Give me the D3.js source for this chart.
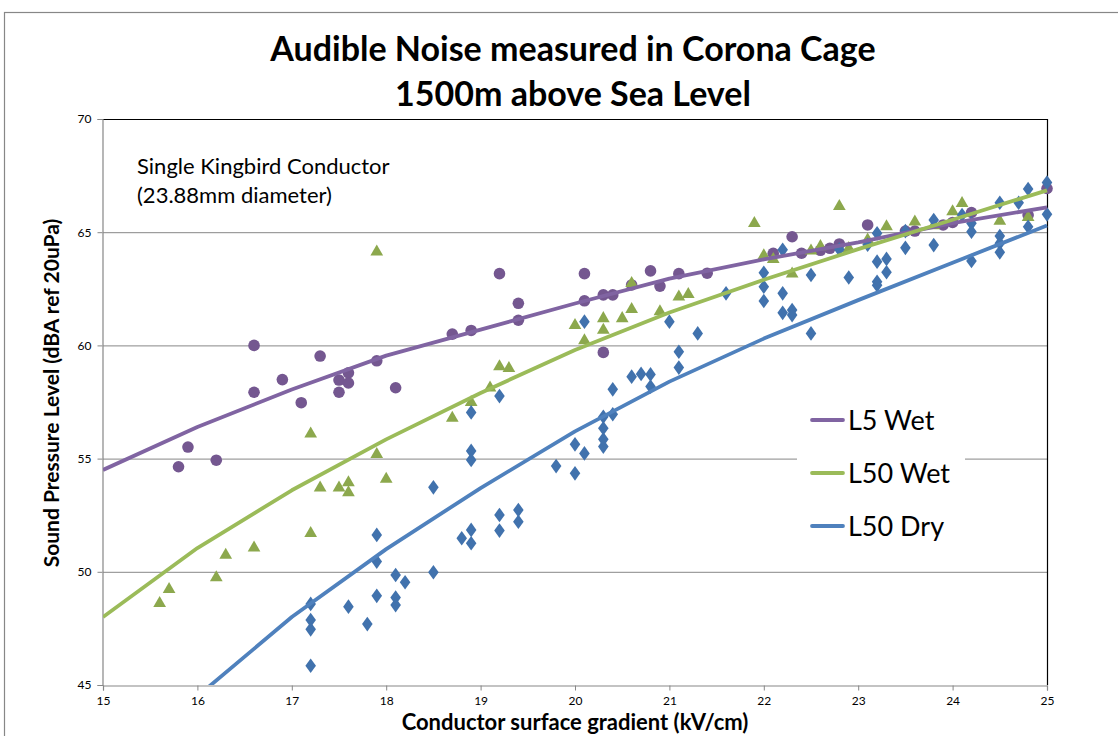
<!DOCTYPE html>
<html>
<head>
<meta charset="utf-8">
<script src="https://cdn.jsdelivr.net/npm/d3@7"></script>
<style>
  html, body { margin: 0; padding: 0; background: #fff; }
  svg { display: block; }
  text { font-family: Lato, "Open Sans", sans-serif; fill: #000; }
</style>
</head>
<body>
<svg id="chart" width="1118" height="736"></svg>
<script>
// Measured points: [gradient kV/cm, SPL dBA]
const l5WetPoints = [
  [15.8,54.64],[15.9,55.51],[16.2,54.93],[16.6,60.0],[16.6,57.93],[16.9,58.49],[17.1,57.47],
  [17.3,59.53],[17.5,58.47],[17.5,57.93],[17.6,58.79],[17.6,58.34],[17.9,59.32],[18.1,58.13],
  [18.7,60.5],[18.9,60.66],[19.2,63.17],[19.4,61.86],[19.4,61.11],[20.1,63.17],[20.1,61.97],
  [20.3,62.23],[20.4,62.23],[20.3,59.69],[20.6,62.67],[20.8,63.29],[20.9,62.62],[21.1,63.17],
  [21.4,63.19],[22.1,64.07],[22.3,64.8],[22.4,64.07],[22.6,64.2],[22.7,64.29],[22.8,64.48],
  [23.1,65.32],[23.5,65.05],[23.6,65.05],[23.9,65.32],[24.0,65.43],[24.2,65.87],[24.8,65.76],
  [25.0,66.93]
];
const l50WetPoints = [
  [15.6,48.61],[15.7,49.23],[16.2,49.74],[16.3,50.74],[16.6,51.06],[17.2,56.09],[17.2,51.70],
  [17.3,53.71],[17.5,53.71],[17.6,53.94],[17.6,53.50],[17.9,64.13],[17.9,55.19],[18.0,54.10],
  [18.7,56.79],[18.9,57.49],[19.1,58.13],[19.2,59.06],[19.3,58.99],[20.0,60.89],[20.1,60.21],
  [20.3,61.19],[20.3,60.68],[20.5,61.19],[20.6,61.59],[20.6,62.74],[20.9,61.49],[21.1,62.15],
  [21.2,62.26],[21.9,65.39],[22.0,63.97],[22.1,63.8],[22.3,63.16],[22.5,64.18],[22.6,64.37],
  [22.8,66.14],[22.9,64.29],[23.1,64.66],[23.3,65.25],[23.6,65.46],[23.8,65.29],[24.0,65.91],
  [24.1,66.27],[24.5,65.49],[24.8,65.66]
];
const l50DryPoints = [
  [17.2,45.85],[17.2,47.46],[17.2,47.87],[17.2,48.58],[17.6,48.46],[17.8,47.69],[17.9,48.94],
  [17.9,50.45],[17.9,51.63],[18.1,49.86],[18.1,48.86],[18.1,48.53],[18.2,49.54],[18.5,49.98],
  [18.5,53.73],[18.8,51.48],[18.9,51.26],[18.9,51.85],[18.9,54.94],[18.9,55.34],[18.9,57.04],
  [19.2,51.82],[19.2,52.51],[19.2,57.76],[19.4,52.21],[19.4,52.73],[19.8,54.67],[20.0,54.35],
  [20.0,55.63],[20.1,55.23],[20.1,61.05],[20.3,55.53],[20.3,55.85],[20.3,56.34],[20.3,56.85],
  [20.4,56.96],[20.4,58.06],[20.6,58.62],[20.7,58.74],[20.8,58.72],[20.8,58.18],[21.0,61.05],
  [21.1,59.72],[21.1,59.02],[21.3,60.53],[21.6,62.30],[22.0,63.21],[22.0,62.59],[22.0,61.96],
  [22.2,64.22],[22.2,62.30],[22.2,61.44],[22.3,61.56],[22.3,61.34],[22.5,63.11],[22.5,60.53],
  [22.8,64.24],[22.9,63.0],[23.1,64.45],[23.2,64.95],[23.2,63.70],[23.2,62.81],[23.2,62.66],
  [23.3,63.82],[23.3,63.23],[23.5,65.05],[23.5,64.31],[23.8,65.54],[23.8,64.43],[24.1,65.76],
  [24.2,65.39],[24.2,65.02],[24.2,63.73],[24.5,66.30],[24.5,64.83],[24.5,64.51],[24.5,64.11],
  [24.7,66.30],[24.8,66.91],[24.8,65.24],[25.0,67.19],[25.0,65.79]
];

// Fitted curves, evaluated at whole kV/cm steps
const fitX    = [15, 16, 17, 18, 19, 20, 21, 22, 23, 24, 25];
const l5Fit   = [54.5, 56.4, 58.05, 59.55, 60.7, 61.85, 62.95, 63.8, 64.55, 65.4, 66.1];
const l50WetFit = [48.0, 51.05, 53.6, 55.85, 57.9, 59.8, 61.45, 62.9, 64.25, 65.55, 66.85];
const dryFitX = [16, 17, 18, 19, 20, 21, 22, 23, 24, 25];
const l50DryFit = [44.5, 48.0, 51.0, 53.7, 56.2, 58.4, 60.3, 62.0, 63.65, 65.3];

const xTicks = [15, 16, 17, 18, 19, 20, 21, 22, 23, 24, 25];
const yTicks = [45, 50, 55, 60, 65, 70];
const legendLabels = ["L5 Wet", "L50 Wet", "L50 Dry"];

const titleLines = ["Audible Noise measured in Corona Cage", "1500m above Sea Level"];
const noteLines = ["Single Kingbird Conductor", "(23.88mm diameter)"];

const colors = {
  l5Line: "#8064A2", l5Mark: "#745790",
  wetLine: "#9BBB59", wetMark: "#8CA84D",
  dryLine: "#4F81BD", dryMark: "#4172AD"
};

const svg = d3.select("#chart");
const plot = { left: 103, right: 1047, top: 119, bottom: 685 };

const x = d3.scaleLinear().domain([15, 25]).range([plot.left, plot.right]);
const y = d3.scaleLinear().domain([45, 70]).range([plot.bottom, plot.top]);

// Outer chart frame
svg.append("rect")
  .attr("x", 4.5).attr("y", 12.5).attr("width", 1140).attr("height", 760)
  .attr("fill", "none").attr("stroke", "#878787").attr("stroke-width", 1.2);

// Title
svg.append("g").selectAll("text").data(titleLines).join("text")
  .attr("x", 573).attr("y", (d, i) => 61 + i * 45)
  .attr("text-anchor", "middle")
  .style("font-weight", "bold").style("font-size", "34px")
  .text(d => d);

// Gridlines
svg.append("g").selectAll("line").data(yTicks.filter(v => v > 45 && v < 70)).join("line")
  .attr("x1", plot.left).attr("x2", plot.right)
  .attr("y1", d => y(d) + 0.5).attr("y2", d => y(d) + 0.5)
  .attr("stroke", "#878787").attr("stroke-width", 1);

// Plot frame (top / right)
svg.append("path")
  .attr("d", `M${plot.left},${plot.top + 0.5}H${plot.right + 0.5}V${plot.bottom}`)
  .attr("fill", "none").attr("stroke", "#000").attr("stroke-width", 1.2);

// Axes
const xAxis = d3.axisBottom(x).tickValues(xTicks).tickSize(5).tickPadding(6).tickFormat(d3.format("d"));
const yAxis = d3.axisLeft(y).tickValues(yTicks).tickSize(5).tickPadding(6).tickFormat(d3.format("d"));

const gx = svg.append("g").attr("transform", `translate(0,${plot.bottom + 0.5})`).call(xAxis);
const gy = svg.append("g").attr("transform", `translate(${plot.left - 0.5},0)`).call(yAxis);
[gx, gy].forEach(g => {
  g.select(".domain").attr("stroke", "#878787").attr("stroke-width", 1.2);
  g.selectAll(".tick line").attr("stroke", "#878787");
  g.selectAll(".tick text").style("font-size", "12px").attr("fill", "#000")
    .style("font-family", "Lato, sans-serif");
});

// Axis titles
svg.append("text")
  .attr("transform", `translate(59,393) rotate(-90)`)
  .attr("text-anchor", "middle")
  .style("font-weight", "bold").style("font-size", "21px")
  .text("Sound Pressure Level (dBA ref 20uPa)");

svg.append("text")
  .attr("x", 575).attr("y", 730)
  .attr("text-anchor", "middle")
  .style("font-weight", "bold").style("font-size", "22px")
  .text("Conductor surface gradient (kV/cm)");

// Note text
svg.append("g").selectAll("text").data(noteLines).join("text")
  .attr("x", 137).attr("y", (d, i) => 174 + i * 29)
  .style("font-size", "22px")
  .text(d => d);

// Clip region for series
svg.append("defs").append("clipPath").attr("id", "plotClip")
  .append("rect")
  .attr("x", plot.left).attr("y", plot.top)
  .attr("width", plot.right - plot.left + 8).attr("height", plot.bottom - plot.top);

const series = svg.append("g").attr("clip-path", "url(#plotClip)");

const line = d3.line().x(d => x(d[0])).y(d => y(d[1]));

// Markers
series.append("g").selectAll("circle").data(l5WetPoints).join("circle")
  .attr("cx", d => x(d[0])).attr("cy", d => y(d[1])).attr("r", 5.8)
  .attr("fill", colors.l5Mark);

const triSym = d3.symbol().type(d3.symbolTriangle).size(70);
series.append("g").selectAll("path").data(l50WetPoints).join("path")
  .attr("d", triSym)
  .attr("transform", d => `translate(${x(d[0])},${y(d[1])})`)
  .attr("fill", colors.wetMark);

const diaSym = d3.symbol().type(d3.symbolDiamond).size(62);
series.append("g").selectAll("path").data(l50DryPoints).join("path")
  .attr("d", diaSym)
  .attr("transform", d => `translate(${x(d[0])},${y(d[1])}) scale(1.25,1)`)
  .attr("fill", colors.dryMark);

// Fitted curves
const fits = [
  { xs: fitX, ys: l5Fit, color: colors.l5Line },
  { xs: fitX, ys: l50WetFit, color: colors.wetLine },
  { xs: dryFitX, ys: l50DryFit, color: colors.dryLine }
];
series.append("g").selectAll("path").data(fits).join("path")
  .attr("d", f => line(f.xs.map((v, i) => [v, f.ys[i]])))
  .attr("fill", "none").attr("stroke", f => f.color)
  .attr("stroke-width", 3.8).attr("stroke-linejoin", "round");

// Legend
const legend = svg.append("g");
legend.append("rect")
  .attr("x", 797).attr("y", 398).attr("width", 168).attr("height", 155)
  .attr("fill", "#fff");
const legendColors = [colors.l5Line, colors.wetLine, colors.dryLine];
const legendY = d3.scalePoint().domain(legendLabels).range([420, 526]);
legend.selectAll("line").data(legendLabels).join("line")
  .attr("x1", 812).attr("x2", 843)
  .attr("y1", d => legendY(d)).attr("y2", d => legendY(d))
  .attr("stroke", (d, i) => legendColors[i]).attr("stroke-width", 3.8)
  .attr("stroke-linecap", "round");
legend.selectAll("text").data(legendLabels).join("text")
  .attr("x", 848).attr("y", d => legendY(d) + 10)
  .style("font-size", "27px")
  .text(d => d);
</script>
</body>
</html>
